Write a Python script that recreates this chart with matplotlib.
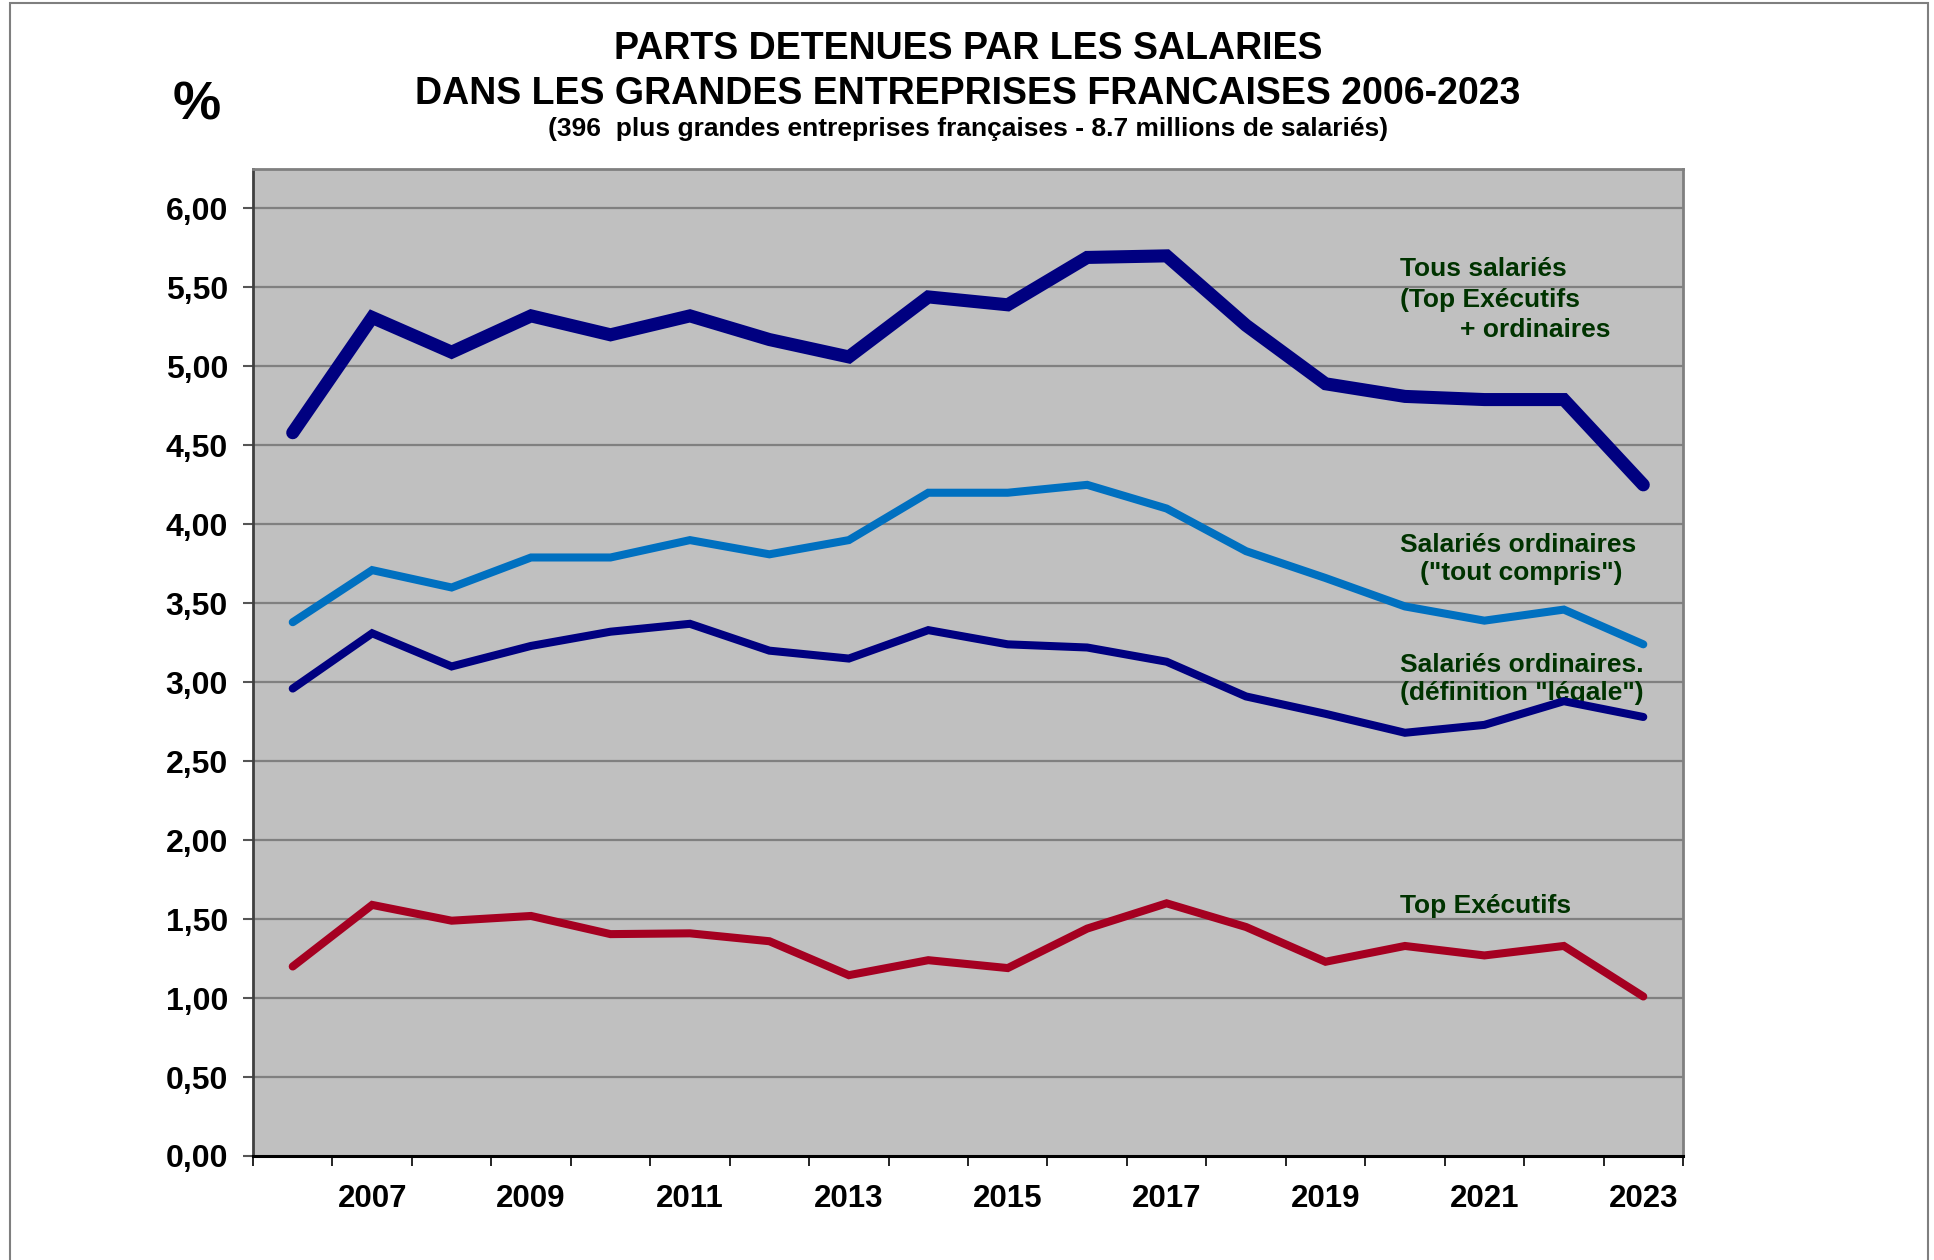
import matplotlib
matplotlib.use("Agg")
import matplotlib.pyplot as plt
from matplotlib.ticker import FixedLocator, FuncFormatter
from matplotlib.patches import Rectangle

plt.rcParams['font.family'] = ['Liberation Sans', 'DejaVu Sans']
plt.rcParams['font.weight'] = 'bold'

years = list(range(2006, 2024))
tous_salaries = [4.58, 5.31, 5.09, 5.32, 5.20, 5.32, 5.17, 5.06, 5.44, 5.39,
                 5.69, 5.70, 5.26, 4.89, 4.81, 4.79, 4.79, 4.25]
ordinaires_tout_compris = [3.38, 3.71, 3.60, 3.79, 3.79, 3.90, 3.81, 3.90, 4.20, 4.20,
                           4.25, 4.10, 3.83, 3.66, 3.48, 3.39, 3.46, 3.24]
ordinaires_legale = [2.96, 3.31, 3.10, 3.23, 3.32, 3.37, 3.20, 3.15, 3.33, 3.24,
                     3.22, 3.13, 2.91, 2.80, 2.68, 2.73, 2.88, 2.78]
top_executifs = [1.20, 1.59, 1.49, 1.52, 1.405, 1.41, 1.36, 1.145, 1.24, 1.19,
                 1.44, 1.60, 1.45, 1.23, 1.33, 1.27, 1.33, 1.01]
year_labels = ["2007", "2009", "2011", "2013", "2015", "2017", "2019", "2021", "2023"]
y_ticks = [0.0, 0.5, 1.0, 1.5, 2.0, 2.5, 3.0, 3.5, 4.0, 4.5, 5.0, 5.5, 6.0]

W, H = 1934, 1260
fig = plt.figure(figsize=(W / 100, H / 100), dpi=100)
fig.patch.set_facecolor('white')

# outer frame
fig.patches.append(Rectangle((10 / W, -0.02), (1928 - 10) / W, 1.02 - 3 / H,
                             transform=fig.transFigure, fill=False,
                             edgecolor='#7f7f7f', lw=1.5))

ax_l, ax_r, ax_t, ax_b = 253, 1683, 169, 1156
ax = fig.add_axes([ax_l / W, 1 - ax_b / H, (ax_r - ax_l) / W, (ax_b - ax_t) / H])
ax.set_facecolor('#C0C0C0')

x = list(range(len(years)))
ax.set_xlim(-0.5, len(years) - 0.5)
ax.set_ylim(0, 6.25)

for yv in y_ticks[1:]:
    ax.axhline(yv, color='#808080', lw=1.6, zorder=1)

common = dict(solid_capstyle='round', solid_joinstyle='miter', zorder=3)
ax.plot(x, top_executifs, color='#A50021', lw=5.8, **common)
ax.plot(x, ordinaires_legale, color='#000080', lw=5.8, **common)
ax.plot(x, ordinaires_tout_compris, color='#0070C0', lw=5.8, **common)
ax.plot(x, tous_salaries, color='#000080', lw=9.4, **common)

# axes ticks
ax.yaxis.set_major_locator(FixedLocator(y_ticks))
ax.yaxis.set_major_formatter(FuncFormatter(lambda v, p: f"{v:.2f}".replace('.', ',')))
ax.tick_params(axis='y', direction='out', length=7, width=1.5, color='#555555',
               labelsize=23, pad=11)

boundaries = [i - 0.5 for i in range(len(years) + 1)]
ax.xaxis.set_major_locator(FixedLocator(boundaries))
ax.xaxis.set_major_formatter(FuncFormatter(lambda v, p: ""))
label_pos = [years.index(int(s)) for s in year_labels]
ax.xaxis.set_minor_locator(FixedLocator(label_pos))
ax.set_xticklabels(year_labels, minor=True)
ax.tick_params(axis='x', which='major', direction='out', length=7, width=1.2, color='black')
ax.tick_params(axis='x', which='minor', length=0, labelsize=22.5, pad=20)
for lab in ax.get_xticklabels(minor=True) + ax.get_yticklabels():
    lab.set_fontweight('bold')

for side in ['top', 'right']:
    ax.spines[side].set_color('#808080')
    ax.spines[side].set_linewidth(2)
ax.spines['left'].set_color('#404040')
ax.spines['left'].set_linewidth(2)
ax.spines['bottom'].set_color('black')
ax.spines['bottom'].set_linewidth(2.2)

# annotations
green = '#003300'
def ann(px, baseline, s):
    ax.text((px - ax_l) / (ax_r - ax_l), (ax_b - baseline) / (ax_b - ax_t), s,
            transform=ax.transAxes, ha='left', va='baseline', fontsize=19,
            fontweight='bold', color=green, zorder=2)

ann(1400, 276, "Tous salariés")
ann(1400, 307, "(Top Exécutifs")
ann(1460, 337, "+ ordinaires")
ann(1400, 552, "Salariés ordinaires")
ann(1420, 580, "(\"tout compris\")")
ann(1400, 672, "Salariés ordinaires.")
ann(1400, 700, "(définition \"légale\")")
ann(1400, 913, "Top Exécutifs")

# titles
cx = (ax_l + ax_r) / 2 / W
fig.text(cx, 1 - 59 / H, "PARTS DETENUES PAR LES SALARIES", ha='center', va='baseline',
         fontsize=27, fontweight='bold')
fig.text(cx, 1 - 103.5 / H, "DANS LES GRANDES ENTREPRISES FRANCAISES 2006-2023", ha='center',
         va='baseline', fontsize=27, fontweight='bold')
fig.text(cx, 1 - 136 / H, "(396  plus grandes entreprises françaises - 8.7 millions de salariés)",
         ha='center', va='baseline', fontsize=19, fontweight='bold')
fig.text(197 / W, 1 - 106 / H, "%", ha='center', va='center', fontsize=39, fontweight='bold')

fig.savefig("out.png", dpi=100, facecolor='white')
